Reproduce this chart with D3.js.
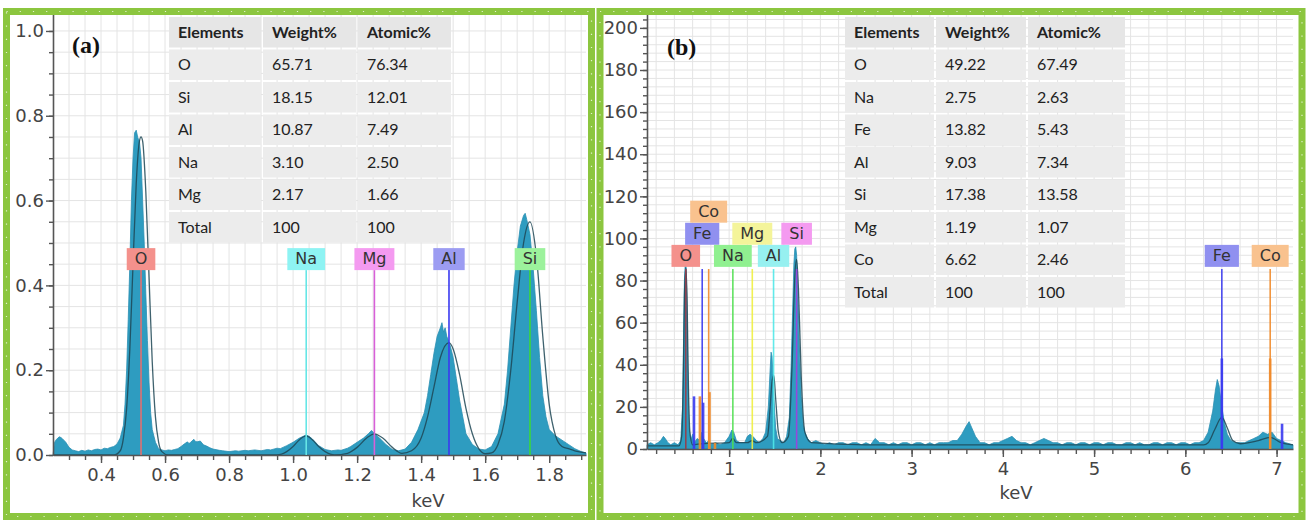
<!DOCTYPE html>
<html>
<head>
<meta charset="utf-8">
<script src="https://cdn.jsdelivr.net/npm/d3@7"></script>
<style>
body { margin: 0; background: #fff; }
svg { display: block; }
</style>
</head>
<body>
<svg width="1306" height="522"></svg>
<script>

// ---------- panel (a) data ----------
var specA = [
  [0.25,0.0],[0.255,0.03],[0.26,0.036],[0.265,0.04],[0.27,0.043],[0.275,0.041],[0.28,0.038],[0.29,0.03],[0.30,0.018],
  [0.31,0.012],[0.32,0.01],[0.33,0.008],[0.34,0.011],[0.35,0.009],[0.36,0.012],[0.37,0.01],[0.38,0.013],
  [0.39,0.014],[0.40,0.012],[0.41,0.016],[0.42,0.015],[0.43,0.018],[0.44,0.02],[0.45,0.026],[0.46,0.04],
  [0.47,0.07],[0.475,0.12],[0.48,0.2],[0.485,0.32],[0.49,0.45],[0.495,0.6],[0.50,0.7],[0.505,0.76],
  [0.51,0.766],[0.515,0.748],[0.52,0.74],[0.525,0.7],[0.53,0.6],[0.535,0.5],[0.54,0.38],[0.545,0.27],
  [0.55,0.17],[0.555,0.1],[0.56,0.06],[0.57,0.03],[0.58,0.015],[0.59,0.012],[0.60,0.01],[0.61,0.012],
  [0.62,0.011],[0.63,0.013],[0.64,0.015],[0.65,0.02],[0.66,0.026],[0.67,0.031],[0.675,0.027],[0.68,0.03],
  [0.69,0.037],[0.695,0.032],[0.70,0.031],[0.71,0.033],[0.72,0.024],[0.73,0.021],[0.74,0.017],[0.75,0.014],
  [0.77,0.011],[0.78,0.01],[0.80,0.008],[0.82,0.01],[0.83,0.009],[0.85,0.011],[0.86,0.01],[0.88,0.012],
  [0.90,0.01],[0.92,0.013],[0.93,0.012],[0.95,0.016],[0.96,0.015],[0.98,0.022],[1.00,0.03],[1.02,0.04],
  [1.04,0.047],[1.05,0.044],[1.06,0.038],[1.08,0.022],[1.10,0.013],[1.12,0.01],[1.14,0.012],[1.15,0.011],
  [1.17,0.016],[1.18,0.02],[1.20,0.03],[1.22,0.04],[1.235,0.05],[1.245,0.058],[1.255,0.05],[1.27,0.04],
  [1.29,0.025],[1.31,0.013],[1.33,0.01],[1.35,0.014],[1.37,0.03],[1.39,0.06],[1.41,0.1],[1.42,0.14],
  [1.43,0.19],[1.44,0.24],[1.45,0.28],[1.46,0.3],[1.465,0.312],[1.47,0.29],[1.475,0.3],[1.48,0.28],
  [1.49,0.26],[1.50,0.23],[1.51,0.18],[1.52,0.13],[1.53,0.09],[1.54,0.05],[1.56,0.025],[1.58,0.014],
  [1.60,0.012],[1.62,0.02],[1.64,0.05],[1.66,0.12],[1.67,0.2],[1.68,0.3],[1.69,0.4],[1.70,0.48],
  [1.71,0.54],[1.72,0.565],[1.725,0.57],[1.73,0.555],[1.74,0.52],[1.75,0.44],[1.76,0.34],[1.77,0.23],
  [1.78,0.14],[1.79,0.09],[1.80,0.06],[1.82,0.045],[1.84,0.035],[1.86,0.025],[1.88,0.015],[1.90,0.008],
  [1.915,0.005]
];
var fitA = [
  [0.25,0],[0.44,0],[0.46,0.01],[0.47,0.04],[0.48,0.11],[0.49,0.25],[0.50,0.45],[0.51,0.64],[0.52,0.74],
  [0.525,0.75],[0.53,0.74],[0.54,0.62],[0.55,0.42],[0.56,0.22],[0.57,0.09],[0.58,0.03],[0.59,0.008],[0.61,0],
  [0.95,0],[0.98,0.008],[1.00,0.02],[1.02,0.036],[1.041,0.045],[1.06,0.036],[1.08,0.02],[1.10,0.008],
  [1.13,0],[1.17,0.004],[1.20,0.018],[1.23,0.04],[1.254,0.05],[1.28,0.04],[1.31,0.018],[1.34,0.004],
  [1.37,0.01],[1.40,0.04],[1.42,0.09],[1.44,0.16],[1.46,0.23],[1.487,0.265],[1.50,0.25],[1.52,0.19],
  [1.54,0.11],[1.56,0.05],[1.58,0.015],[1.60,0.003],[1.62,0.005],[1.64,0.025],[1.66,0.08],[1.68,0.2],
  [1.70,0.36],[1.72,0.5],[1.74,0.55],[1.76,0.47],[1.78,0.28],[1.80,0.12],[1.82,0.045],[1.84,0.02],
  [1.86,0.015],[1.88,0.01],[1.915,0.005]
];
var elemsA   = ["O", "Na", "Mg", "Al", "Si"];
var energyA  = [0.525, 1.041, 1.254, 1.487, 1.740];
var tableHead = ["Elements", "Weight%", "Atomic%"];
var tabElemA   = ["O", "Si", "Al", "Na", "Mg", "Total"];
var tabWeightA = ["65.71", "18.15", "10.87", "3.10", "2.17", "100"];
var tabAtomicA = ["76.34", "12.01", "7.49", "2.50", "1.66", "100"];

// ---------- panel (b) data ----------
var specB = [
  [0.10,2],[0.14,3],[0.18,2],[0.22,3],[0.25,4],[0.28,6],[0.30,5],[0.33,3],[0.36,2],[0.40,3],[0.44,2],
  [0.47,4],[0.49,20],[0.50,50],[0.51,80],[0.52,89],[0.53,86],[0.54,60],[0.55,30],[0.56,10],[0.58,4],
  [0.60,7],[0.62,3],[0.65,5],[0.68,4],[0.70,8],[0.72,5],[0.75,3],[0.78,4],[0.80,2],[0.85,3],[0.90,2],
  [0.95,3],[1.00,6],[1.03,9],[1.05,8],[1.08,4],[1.12,3],[1.17,3],[1.20,6],[1.23,7],[1.26,6],[1.30,4],
  [1.33,3],[1.37,5],[1.40,8],[1.43,20],[1.45,38],[1.46,46],[1.47,44],[1.48,36],[1.49,25],[1.51,10],
  [1.53,5],[1.56,4],[1.60,3],[1.63,6],[1.66,15],[1.68,40],[1.70,72],[1.71,88],[1.72,95],[1.73,96],
  [1.74,92],[1.75,78],[1.77,48],[1.79,25],[1.81,12],[1.83,8],[1.86,5],[1.90,3],[1.95,4],[2.00,3],
  [2.05,2],[2.10,3],[2.15,2],[2.20,3],[2.25,3],[2.30,2],[2.35,3],[2.40,3],[2.45,2],[2.50,3],[2.55,2],
  [2.60,5],[2.65,3],[2.70,3],[2.75,2],[2.80,3],[2.85,2],[2.90,3],[2.95,3],[3.00,2],[3.05,3],[3.10,3],
  [3.15,2],[3.20,3],[3.25,2],[3.30,3],[3.35,3],[3.40,3],[3.45,4],[3.50,4],[3.55,7],[3.60,11],[3.63,13],
  [3.66,10],[3.70,6],[3.75,3],[3.80,3],[3.85,2],[3.90,3],[3.95,3],[4.00,4],[4.05,5],[4.10,6],[4.15,4],
  [4.20,3],[4.25,3],[4.30,2],[4.35,3],[4.40,4],[4.45,5],[4.50,4],[4.55,3],[4.60,3],[4.65,2],[4.70,3],
  [4.75,3],[4.80,2],[4.85,3],[4.90,3],[4.95,2],[5.00,3],[5.05,3],[5.10,2],[5.15,3],[5.20,3],[5.25,2],
  [5.30,2],[5.35,3],[5.40,3],[5.45,2],[5.50,3],[5.55,2],[5.60,2],[5.65,3],[5.70,3],[5.75,2],[5.80,3],
  [5.85,3],[5.90,2],[5.95,3],[6.00,3],[6.05,2],[6.10,3],[6.15,3],[6.20,4],[6.25,8],[6.28,14],[6.30,18],
  [6.33,28],[6.35,33],[6.37,30],[6.40,20],[6.43,12],[6.46,7],[6.50,4],[6.55,3],[6.60,3],[6.65,3],
  [6.70,4],[6.75,5],[6.80,6],[6.85,8],[6.90,7],[6.95,8],[7.00,5],[7.05,4],[7.10,3],[7.18,2]
];
var fitB = [
  [0.10,1.5],[0.45,1.5],[0.48,6],[0.50,40],[0.51,72],[0.525,86],[0.54,70],[0.55,40],[0.57,8],[0.60,2],
  [0.70,2.5],[1.00,3],[1.04,5],[1.08,3],[1.20,3],[1.25,4],[1.30,3],[1.42,6],[1.45,20],[1.47,32],
  [1.49,35],[1.51,24],[1.54,8],[1.58,3],[1.65,6],[1.69,40],[1.72,82],[1.74,90],[1.76,76],[1.79,35],
  [1.83,8],[1.90,3],[2.50,2],[6.20,2],[6.25,3],[6.32,9],[6.40,15],[6.46,10],[6.52,4],[6.60,2.5],
  [6.80,4],[6.93,5.5],[7.05,3],[7.18,2]
];
var elemsB  = ["O", "Fe", "Co", "Na", "Mg", "Al", "Si", "Fe", "Co"];
var energyB = [0.525, 0.705, 0.776, 1.041, 1.254, 1.487, 1.740, 6.400, 6.930];
var markerTopB = 85.5;
// short family lines: element, keV, height
var minorElB = ["Fe", "Fe", "Co", "Co", "Co", "Fe", "Co", "Fe"];
var minorKevB = [0.615, 0.715, 0.680, 0.785, 0.845, 6.400, 6.930, 7.060];
var minorHB = [25, 22, 25, 27, 3, 43, 43, 12];
var tabElemB   = ["O", "Na", "Fe", "Al", "Si", "Mg", "Co", "Total"];
var tabWeightB = ["49.22", "2.75", "13.82", "9.03", "17.38", "1.19", "6.62", "100"];
var tabAtomicB = ["67.49", "2.63", "5.43", "7.34", "13.58", "1.07", "2.46", "100"];

// ---------- styles ----------
var boxColA  = {O:"#f4918c", Na:"#8ef3f3", Mg:"#f49af0", Al:"#9c9cf2", Si:"#9cf29c"};
var lineColA = {O:"#e07070", Na:"#66e6e6", Mg:"#d860d8", Al:"#3a3af0", Si:"#3ad83a"};
var boxColB  = {O:"#f4918c", Fe:"#9090f0", Co:"#f9c28e", Na:"#90f090", Mg:"#f4f49a", Al:"#96f0f0", Si:"#f49af0"};
var lineColB = {O:"#9a3a48", Fe:"#3a3af0", Co:"#f08a2a", Na:"#50e050", Mg:"#f0f040", Al:"#50e8e8", Si:"#a040e0"};
var rowB = [0, 1, 2, 0, 1, 0, 1, 0, 0];   // label stacking row

var svg = d3.select("svg");
var green = "#8cc63f";

function panel(cfg) {
  var g = svg.append("g");
  var x = d3.scaleLinear().domain(cfg.xDom).range(cfg.xRange);
  var y = d3.scaleLinear().domain(cfg.yDom).range(cfg.yRange);

  // grid
  g.append("g").selectAll("line").data(cfg.gridX).enter().append("line")
    .attr("x1", function(d){return x(d);}).attr("x2", function(d){return x(d);})
    .attr("y1", y.range()[0]).attr("y2", y.range()[1])
    .attr("stroke", "#e4e4e4").attr("stroke-width", 1);
  g.append("g").selectAll("line").data(cfg.gridY).enter().append("line")
    .attr("y1", function(d){return y(d);}).attr("y2", function(d){return y(d);})
    .attr("x1", x.range()[0]).attr("x2", x.range()[1])
    .attr("stroke", "#e4e4e4").attr("stroke-width", 1);

  // spectrum
  var area = d3.area().x(function(d){return x(d[0]);}).y0(y(0)).y1(function(d){return y(d[1]);});
  g.append("path").datum(cfg.spec).attr("d", area)
    .attr("fill", "#2e9cc0").attr("stroke", "#2b8fb3").attr("stroke-width", 0.8);
  var line = d3.line().x(function(d){return x(d[0]);}).y(function(d){return y(d[1]);}).curve(d3.curveMonotoneX);
  g.append("path").datum(cfg.fit).attr("d", line)
    .attr("fill", "none").attr("stroke", "#1d4655").attr("stroke-width", 1.3).attr("opacity", 0.85);

  // axes
  var yAx = g.append("g").attr("transform", "translate(" + x.range()[0] + ",0)")
    .call(d3.axisLeft(y).tickValues(cfg.yMajor).tickSize(7).tickSizeOuter(0).tickFormat(cfg.yFmt));
  g.append("g").attr("transform", "translate(" + x.range()[0] + ",0)")
    .call(d3.axisLeft(y).tickValues(cfg.yMinor).tickSize(4).tickSizeOuter(0).tickFormat(""))
    .select(".domain").remove();
  var xAx = g.append("g").attr("transform", "translate(0," + y(0) + ")")
    .call(d3.axisBottom(x).tickValues(cfg.xMajor).tickSize(8).tickSizeOuter(0).tickFormat(cfg.xFmt));
  g.append("g").attr("transform", "translate(0," + y(0) + ")")
    .call(d3.axisBottom(x).tickValues(cfg.xMinor).tickSize(5).tickSizeOuter(0).tickFormat(""))
    .select(".domain").remove();
  g.selectAll(".domain").attr("stroke", "#555").attr("stroke-width", 1.6);
  g.selectAll(".tick line").attr("stroke", "#555").attr("stroke-width", 1.4);
  g.selectAll(".tick text").attr("fill", "#444").style("font-family", "DejaVu Sans").style("font-size", "18px");
  yAx.selectAll(".tick text").attr("x", -9);
  xAx.selectAll(".tick text").attr("y", 13);

  g.append("text").attr("x", cfg.kevPos[0]).attr("y", cfg.kevPos[1]).attr("text-anchor", "middle")
    .attr("fill", "#444").style("font-family", "DejaVu Sans").style("font-size", "18px").text("keV");

  return {g: g, x: x, y: y};
}

function labelBox(g, cx, bottom, txt, fill) {
  var t = g.append("text").attr("x", cx).attr("y", bottom - 6).attr("text-anchor", "middle")
    .attr("fill", "#333").style("font-family", "DejaVu Sans").style("font-size", "16px").text(txt);
  var w = t.node().getComputedTextLength() + 16;
  g.insert("rect", function(){ return t.node(); })
    .attr("x", cx - w / 2).attr("y", bottom - 22).attr("width", w).attr("height", 22).attr("fill", fill);
}

function table(x0, cols, top, pitch, rows) {
  var g = svg.append("g");
  var allRows = [tableHead].concat(rows);
  allRows.forEach(function(r, i) {
    r.forEach(function(v, j) {
      g.append("rect").attr("x", cols[j] + 1).attr("y", top + i * pitch + 1)
        .attr("width", cols[j + 1] - cols[j] - 2).attr("height", pitch - 2)
        .attr("fill", i === 0 ? "#e6e6e6" : "#ececec");
      g.append("text").attr("x", cols[j] + 10).attr("y", top + i * pitch + pitch / 2 + 5.5)
        .attr("fill", "#222").style("font-family", "Lato").style("font-size", "16px")
        .style("font-weight", i === 0 ? "bold" : "normal").text(v);
    });
  });
}

// ---------- panel (a) ----------
var pa = panel({
  xDom: [0.25, 1.915], xRange: [53, 586],
  yDom: [0, 1.04], yRange: [455, 14],
  spec: specA, fit: fitA,
  gridX: d3.range(6, 39).map(function(i){return i * 0.05;}),
  gridY: d3.range(1, 21).map(function(i){return i * 0.05;}),
  yMajor: [0, 0.2, 0.4, 0.6, 0.8, 1.0],
  yMinor: d3.range(0, 21).map(function(i){return i * 0.05;}),
  xMajor: [0.4, 0.6, 0.8, 1.0, 1.2, 1.4, 1.6, 1.8],
  xMinor: d3.range(6, 39).map(function(i){return i * 0.05;}),
  yFmt: d3.format(".1f"), xFmt: d3.format(".1f"),
  kevPos: [428, 507]
});
var boxBottomA = 0.436;
elemsA.forEach(function(el, i) {
  pa.g.append("line").attr("x1", pa.x(energyA[i])).attr("x2", pa.x(energyA[i]))
    .attr("y1", pa.y(boxBottomA)).attr("y2", pa.y(0))
    .attr("stroke", lineColA[el]).attr("stroke-width", 1.6);
});
elemsA.forEach(function(el, i) {
  labelBox(pa.g, pa.x(energyA[i]), pa.y(boxBottomA), el, boxColA[el]);
});
table(168, [168, 262, 357, 452], 16, 32.5,
  tabElemA.map(function(e, i){ return [e, tabWeightA[i], tabAtomicA[i]]; }));

// ---------- panel (b) ----------
var pb = panel({
  xDom: [0.1, 7.18], xRange: [647, 1293],
  yDom: [0, 206.6], yRange: [449, 14],
  spec: specB, fit: fitB,
  gridX: d3.range(1, 36).map(function(i){return i * 0.2;}),
  gridY: d3.range(1, 52).map(function(i){return i * 4;}),
  yMajor: d3.range(0, 201, 20),
  yMinor: d3.range(0, 205, 4),
  xMajor: [1, 2, 3, 4, 5, 6, 7],
  xMinor: d3.range(1, 36).map(function(i){return i * 0.2;}),
  yFmt: d3.format("d"), xFmt: d3.format("d"),
  kevPos: [1016, 499]
});
elemsB.forEach(function(el, i) {
  pb.g.append("line").attr("x1", pb.x(energyB[i])).attr("x2", pb.x(energyB[i]))
    .attr("y1", pb.y(markerTopB)).attr("y2", pb.y(0))
    .attr("stroke", lineColB[el]).attr("stroke-width", 1.6).attr("opacity", 0.9);
});
minorElB.forEach(function(el, i) {
  pb.g.append("line").attr("x1", pb.x(minorKevB[i])).attr("x2", pb.x(minorKevB[i]))
    .attr("y1", pb.y(minorHB[i])).attr("y2", pb.y(0))
    .attr("stroke", lineColB[el]).attr("stroke-width", 2.6).attr("opacity", 0.9);
});
var rowLevels = [86.5, 97, 107.5];
elemsB.forEach(function(el, i) {
  labelBox(pb.g, pb.x(energyB[i]), pb.y(rowLevels[rowB[i]]), el, boxColB[el]);
});
table(844, [844, 935, 1027, 1126], 16, 32.5,
  tabElemB.map(function(e, i){ return [e, tabWeightB[i], tabAtomicB[i]]; }));

// panel letters
svg.append("text").attr("x", 72).attr("y", 53).text("(a)")
  .style("font-family", "Liberation Serif").style("font-weight", "bold").style("font-size", "24px").attr("fill", "#111");
svg.append("text").attr("x", 667).attr("y", 55).text("(b)")
  .style("font-family", "Liberation Serif").style("font-weight", "bold").style("font-size", "24px").attr("fill", "#111");

// green frames with white dots
[[6.5, 11.5, 585, 505], [600, 11.5, 702, 505]].forEach(function(r) {
  svg.append("rect").attr("x", r[0]).attr("y", r[1]).attr("width", r[2]).attr("height", r[3])
    .attr("fill", "none").attr("stroke", green).attr("stroke-width", 7);
  svg.append("rect").attr("x", r[0]).attr("y", r[1]).attr("width", r[2]).attr("height", r[3])
    .attr("fill", "none").attr("stroke", "#fff").attr("stroke-width", 1.2)
    .attr("stroke-dasharray", "1.2 12").attr("opacity", 0.75);
});
</script>
</body>
</html>
